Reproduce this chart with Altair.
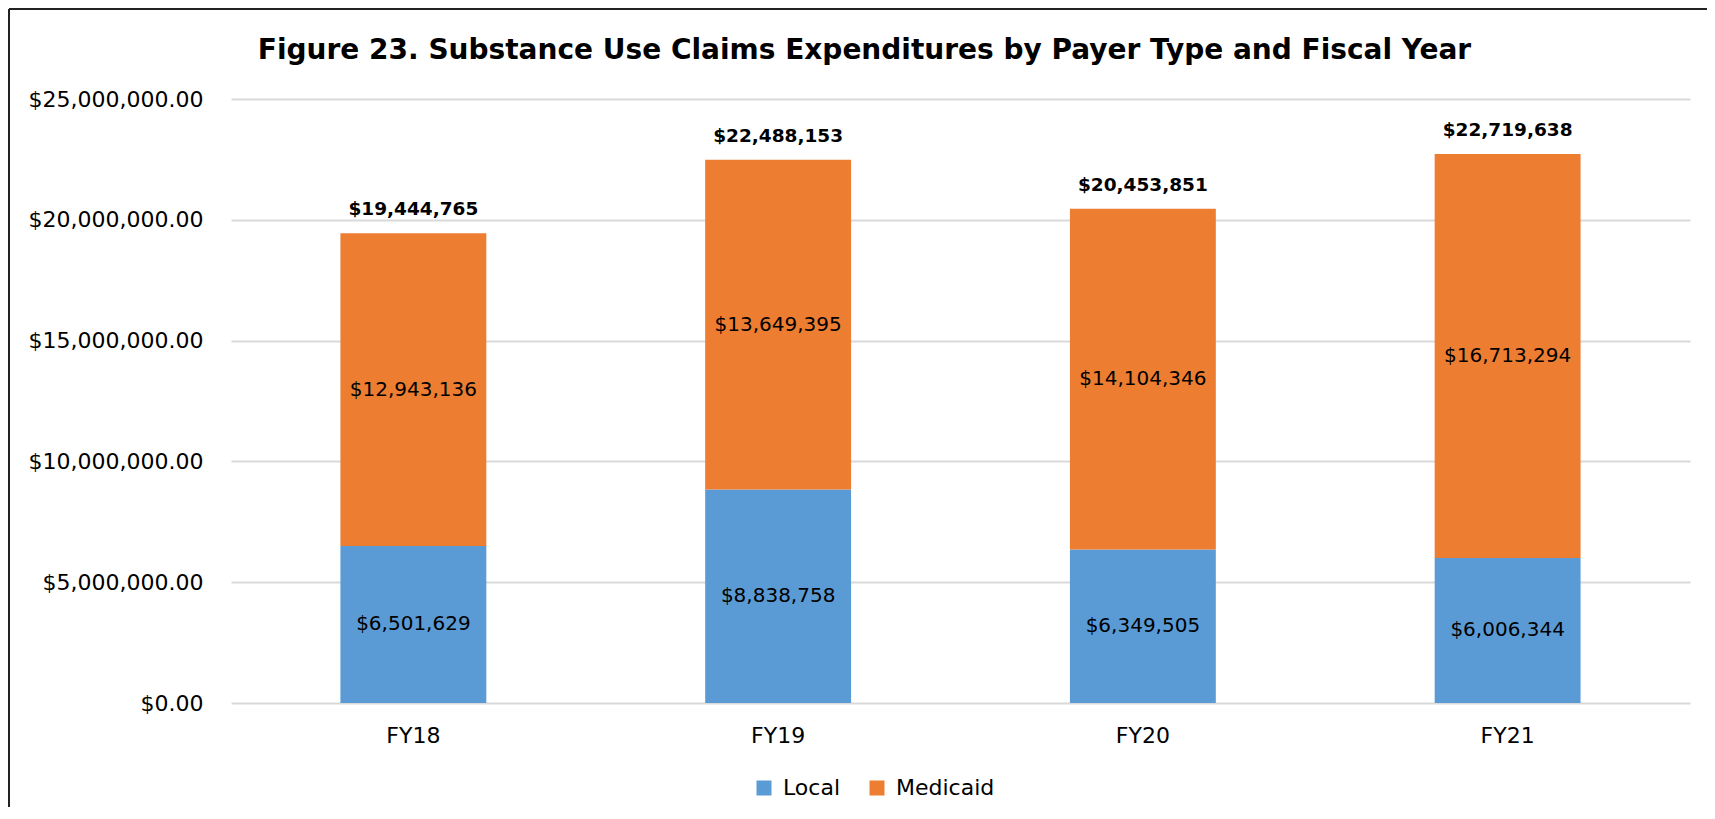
import altair as alt
import pandas as pd

# ---- data ----
years = ["FY18", "FY19", "FY20", "FY21"]
local = [6501629, 8838758, 6349505, 6006344]
medicaid = [12943136, 13649395, 14104346, 16713294]
payers = ["Local", "Medicaid"]
colors = ["#5B9BD5", "#ED7D31"]
y_ticks = [0, 5000000, 10000000, 15000000, 20000000, 25000000]
title_text = "Figure 23. Substance Use Claims Expenditures by Payer Type and Fiscal Year"

rows = []
for i, yr in enumerate(years):
    rows.append({"year": yr, "payer": payers[0], "value": local[i], "order": 0})
    rows.append({"year": yr, "payer": payers[1], "value": medicaid[i], "order": 1})
df = pd.DataFrame(rows)
totals = pd.DataFrame({"year": years, "total": [a + b for a, b in zip(local, medicaid)]})

W, H = 1459, 604
LABEL_FONT = "DejaVu Sans"

yscale = alt.Scale(domain=[0, 25000000], nice=False)
xscale = alt.Scale(paddingInner=0.6, paddingOuter=0.3)

x_enc = alt.X(
    "year:N", sort=years, title=None, scale=xscale,
    axis=alt.Axis(labelAngle=0, labelFont=LABEL_FONT, labelFontSize=22, labelColor="#000",
                  labelPadding=22, ticks=False, tickSize=0, domain=False, grid=False),
)
y_enc = alt.Y(
    "value:Q", stack="zero", title=None, scale=yscale,
    axis=alt.Axis(values=y_ticks, format="$,.2f", labelFont=LABEL_FONT, labelFontSize=22,
                  labelColor="#000", labelPadding=28, ticks=False, tickSize=0, domain=False,
                  gridColor="#D9D9D9", gridWidth=2),
)

bars = alt.Chart(df).mark_bar().encode(
    x=x_enc,
    y=y_enc,
    color=alt.Color(
        "payer:N",
        scale=alt.Scale(domain=payers, range=colors),
        legend=alt.Legend(
            title=None, orient="none", legendX=522, legendY=678, direction="horizontal",
            symbolType="square", symbolSize=225, symbolStrokeWidth=0, symbolOpacity=1,
            labelFont=LABEL_FONT, labelFontSize=22, labelColor="#000", labelOffset=8,
            columnPadding=25, padding=0,
        ),
    ),
    order=alt.Order("order:Q", sort="ascending"),
)

seg_labels = (
    alt.Chart(df)
    .transform_stack(stack="value", groupby=["year"], as_=["v0", "v1"],
                     sort=[alt.SortField("order", order="ascending")])
    .transform_calculate(mid="(datum.v0 + datum.v1) / 2")
    .mark_text(font=LABEL_FONT, fontSize=20, color="#000", baseline="middle")
    .encode(
        x=alt.X("year:N", sort=years, scale=xscale),
        y=alt.Y("mid:Q", scale=yscale),
        text=alt.Text("value:Q", format="$,.0f"),
    )
)

total_labels = (
    alt.Chart(totals)
    .mark_text(font=LABEL_FONT, fontSize=18.5, fontWeight="bold", color="#000",
               baseline="alphabetic", dy=-18)
    .encode(
        x=alt.X("year:N", sort=years, scale=xscale),
        y=alt.Y("total:Q", scale=yscale),
        text=alt.Text("total:Q", format="$,.0f"),
    )
)

one = pd.DataFrame({"k": [0]})
left_border = alt.Chart(one).mark_rule(color="#222", strokeWidth=2).encode(
    x=alt.value(-222), y=alt.value(-90), y2=alt.value(H + 112))
top_border = alt.Chart(one).mark_rule(color="#222", strokeWidth=2).encode(
    y=alt.value(-90), x=alt.value(-222), x2=alt.value(W + 20))

chart = (
    alt.layer(bars, seg_labels, total_labels, left_border, top_border)
    .properties(
        width=W, height=H,
        autosize=alt.AutoSizeParams(type="none"),
        padding={"left": 223, "top": 91, "right": 17, "bottom": 104},
        background="white",
        title=alt.TitleParams(text=title_text, font="DejaVu Sans", fontSize=28, fontWeight="bold",
                              color="#000", anchor="middle", frame="group", dx=-96, offset=-57),
    )
    .configure_view(stroke=None)
)

chart.save("out.html", embed_options={"renderer": "svg", "actions": False})
